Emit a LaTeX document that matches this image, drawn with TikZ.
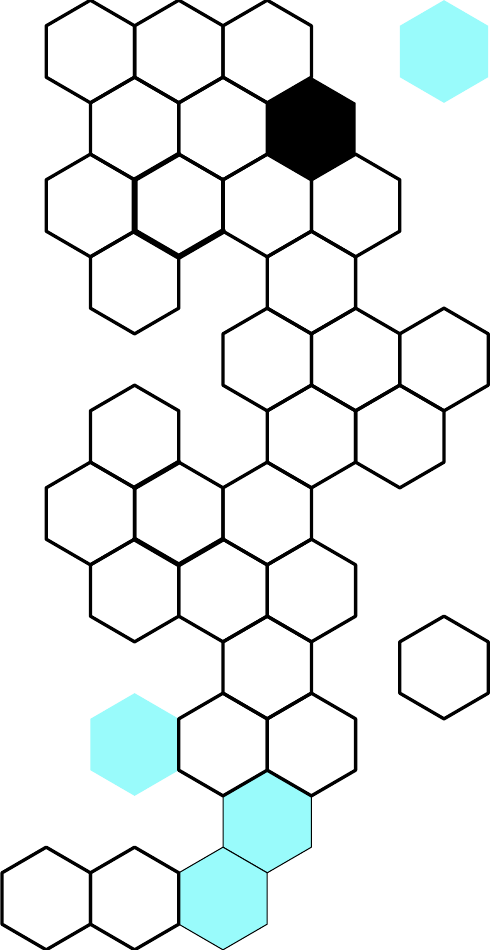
\documentclass[tikz,border=0pt]{standalone}
\usetikzlibrary{calc}
\definecolor{hexcyan}{HTML}{99FBFB}
\tikzset{
  hex/.pic={\path[pic actions] (0,-51.33) -- (44.2,-25.67) -- (44.2,25.67) -- (0,51.33) -- (-44.2,25.67) -- (-44.2,-25.67) -- cycle;},
  hexline/.style={draw=black, line width=3.3pt, line join=round},
  thinline/.style={draw=black, line width=1pt, line join=round},
  boldedge/.style={draw=black, line width=5.8pt, line cap=round},
  midedge/.style={draw=black, line width=4.8pt, line cap=round}
}
\newcommand\hexat[3]{\pic[#3] at ({2+44.2*#1},{51.5+77*#2}) {hex};}
\begin{document}
\begin{tikzpicture}[x=1pt,y=-1pt]
\useasboundingbox (0,0) rectangle (491,950);
\fill[white] (0,0) rectangle (491,950);
% filled cells
\hexat{10}{0}{fill=hexcyan}
\hexat{3}{9}{fill=hexcyan}
\hexat{6}{10}{fill=hexcyan, thinline}
\hexat{5}{11}{fill=hexcyan, thinline}
\hexat{7}{1}{fill=black}
% white cells
\foreach \k/\r in {2/0,4/0,6/0,3/1,5/1,2/2,4/2,6/2,8/2,3/3,7/3,6/4,8/4,10/4,3/5,7/5,9/5,2/6,4/6,6/6,3/7,5/7,7/7,6/8,10/8,5/9,7/9,1/11,3/11}
  {\hexat{\k}{\r}{hexline}}
% heavier edges
\begin{scope}[shift={({2+44.2*4},{51.5+77*2})}]
  \coordinate (a0) at (0,-51.33); \coordinate (a1) at (44.2,-25.67);
  \coordinate (a2) at (44.2,25.67); \coordinate (a3) at (0,51.33);
  \coordinate (a4) at (-44.2,25.67); \coordinate (a5) at (-44.2,-25.67);
  \draw[boldedge] (a5) -- (a4) -- (a3) -- (a2);
  \draw[midedge] (a2) -- (a1);
  \draw[midedge] (a5) -- (a0);
\end{scope}
\begin{scope}[shift={({2+44.2*4},{51.5+77*6})}]
  \coordinate (b0) at (0,-51.33); \coordinate (b2) at (44.2,25.67);
  \coordinate (b3) at (0,51.33); \coordinate (b4) at (-44.2,25.67);
  \coordinate (b5) at (-44.2,-25.67);
  \draw[midedge] (b5) -- (b0);
  \draw[midedge] (b4) -- (b3) -- (b2);
\end{scope}
\end{tikzpicture}
\end{document}
